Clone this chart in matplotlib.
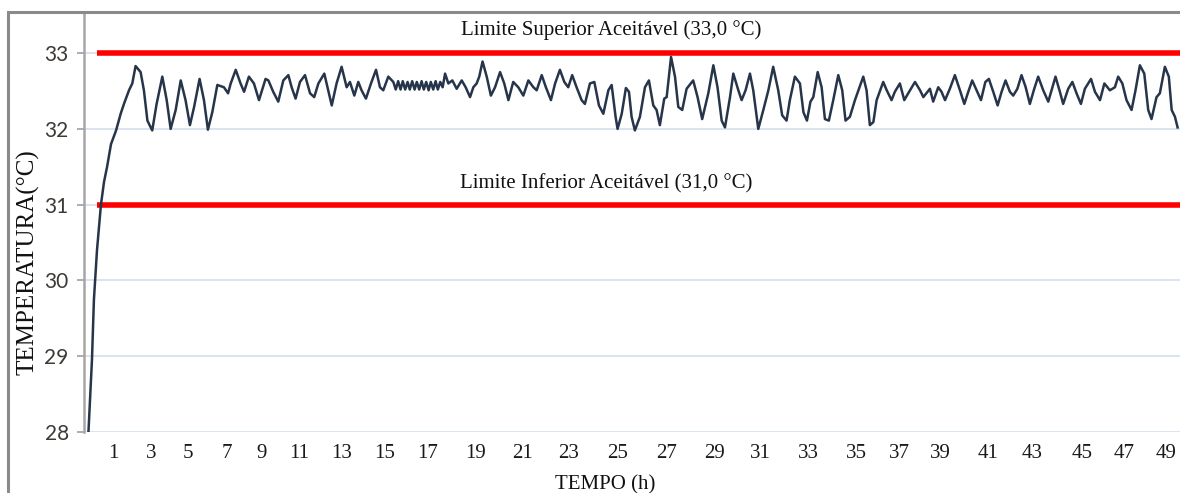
import matplotlib
matplotlib.use("Agg")
import matplotlib.pyplot as plt
from matplotlib.patches import Rectangle

# posição no eixo de categorias (escala do Excel) e temperatura lida
pos = [-0.12, 0.04, 0.13, 0.27, 0.45, 0.59, 0.73, 0.91, 1.14, 1.35, 1.50, 1.73, 1.88,
       2.03, 2.26, 2.41, 2.57, 2.79, 2.99, 3.25, 3.45, 3.63, 3.86, 4.09, 4.31, 4.51,
       4.70, 4.95, 5.15, 5.33, 5.53, 5.76, 6.06, 6.25, 6.37, 6.60, 6.82, 6.98, 7.20,
       7.43, 7.66, 7.96, 8.09, 8.31, 8.54, 8.77, 9.00, 9.15, 9.33, 9.53, 9.76, 9.99,
       10.18, 10.37, 10.64, 10.82, 10.98, 11.20, 11.43, 11.66, 11.81, 12.01, 12.19,
       12.34, 12.54, 12.77, 13.00, 13.18, 13.33, 13.56, 13.79,
       13.90, 14.01, 14.12, 14.22, 14.33, 14.44, 14.54, 14.65, 14.76, 14.86, 14.97,
       15.08, 15.18, 15.29, 15.40, 15.50, 15.61, 15.72, 15.82, 15.93, 16.04,
       16.15, 16.30, 16.48, 16.68, 16.91, 17.09, 17.29, 17.44, 17.59, 17.71, 17.86,
       18.05, 18.24, 18.43, 18.66, 18.85, 19.04, 19.26, 19.49, 19.72, 19.95, 20.18,
       20.33, 20.56, 20.75, 20.98, 21.17, 21.39, 21.59, 21.77, 21.95, 22.15, 22.38,
       22.53, 22.76, 22.96, 23.17, 23.37, 23.60, 23.75, 23.93, 24.02, 24.21, 24.40,
       24.54, 24.66, 24.81, 25.04, 25.27, 25.45, 25.65, 25.80, 25.95, 26.15, 26.26,
       26.46, 26.64, 26.79, 26.97, 27.17, 27.47, 27.67, 27.88, 28.16, 28.39, 28.58,
       28.77, 28.92, 29.15, 29.30, 29.53, 29.68, 29.86, 30.06, 30.21, 30.44, 30.67,
       30.90, 31.12, 31.35, 31.53, 31.73, 31.88, 32.11, 32.34, 32.50, 32.66, 32.82,
       32.95, 33.15, 33.33, 33.48, 33.66, 33.86, 34.09, 34.27, 34.42, 34.62, 34.85,
       35.23, 35.38, 35.53, 35.69, 35.84, 36.14, 36.30, 36.52, 36.67, 36.90, 37.10,
       37.28, 37.59, 37.82, 37.97, 38.27, 38.42, 38.65, 38.80, 38.96, 39.18, 39.41,
       39.64, 39.84, 40.02, 40.20, 40.40, 40.60, 40.80, 40.96, 41.16, 41.36, 41.54,
       41.72, 41.92, 42.07, 42.26, 42.45, 42.64, 42.83, 43.03, 43.21, 43.44, 43.67,
       43.82, 44.00, 44.20, 44.35, 44.58, 44.77, 44.96, 45.16, 45.34, 45.62, 45.80,
       46.03, 46.23, 46.48, 46.71, 46.86, 47.05, 47.24, 47.47, 47.65, 47.85, 48.05,
       48.23, 48.38, 48.61, 48.76, 48.99, 49.17, 49.30, 49.45, 49.57]

temp = [28.00, 28.95, 29.75, 30.40, 31.00, 31.30, 31.50, 31.80, 31.98, 32.20, 32.33, 32.51, 32.60,
        32.83, 32.75, 32.51, 32.11, 31.98, 32.33, 32.69, 32.38, 32.00, 32.25, 32.64, 32.38, 32.05,
        32.29, 32.66, 32.38, 31.99, 32.22, 32.58, 32.55, 32.47, 32.60, 32.78, 32.60, 32.49, 32.69,
        32.60, 32.38, 32.66, 32.64, 32.49, 32.36, 32.64, 32.71, 32.55, 32.40, 32.62, 32.71, 32.47,
        32.42, 32.60, 32.73, 32.51, 32.31, 32.60, 32.82, 32.55, 32.62, 32.44, 32.62,
        32.51, 32.40, 32.60, 32.78, 32.55, 32.51, 32.69, 32.62,
        32.52, 32.63, 32.52, 32.63, 32.52, 32.62, 32.52, 32.63, 32.52, 32.62, 32.52,
        32.63, 32.52, 32.62, 32.51, 32.62, 32.52, 32.63, 32.52, 32.62, 32.55,
        32.73, 32.60, 32.64, 32.53, 32.64, 32.55, 32.42, 32.55, 32.60, 32.69, 32.89,
        32.69, 32.44, 32.55, 32.75, 32.60, 32.38, 32.62, 32.55, 32.44, 32.64, 32.55,
        32.51, 32.71, 32.55, 32.38, 32.60, 32.78, 32.62, 32.55, 32.71, 32.55, 32.38,
        32.33, 32.60, 32.62, 32.31, 32.20, 32.51, 32.58, 32.16, 32.00, 32.20, 32.54,
        32.49, 32.16, 31.98, 32.16, 32.55, 32.64, 32.31, 32.25, 32.05, 32.40, 32.42,
        32.95, 32.69, 32.29, 32.25, 32.53, 32.64, 32.42, 32.13, 32.47, 32.84, 32.55,
        32.11, 32.02, 32.42, 32.73, 32.51, 32.38, 32.51, 32.73, 32.51, 32.00, 32.25,
        32.51, 32.82, 32.51, 32.18, 32.11, 32.38, 32.69, 32.60, 32.22, 32.11, 32.36,
        32.42, 32.75, 32.55, 32.13, 32.11, 32.38, 32.71, 32.51, 32.11, 32.16, 32.38,
        32.69, 32.51, 32.05, 32.09, 32.38, 32.62, 32.51, 32.38, 32.49, 32.60, 32.38,
        32.47, 32.62, 32.51, 32.42, 32.53, 32.36, 32.55, 32.49, 32.38, 32.53, 32.71,
        32.51, 32.33, 32.49, 32.64, 32.51, 32.38, 32.62, 32.66, 32.49, 32.31, 32.49,
        32.64, 32.49, 32.44, 32.53, 32.71, 32.55, 32.33, 32.53, 32.69, 32.51, 32.36,
        32.51, 32.69, 32.49, 32.33, 32.53, 32.62, 32.47, 32.33, 32.53, 32.66, 32.49,
        32.38, 32.60, 32.51, 32.55, 32.69, 32.60, 32.38, 32.25, 32.51, 32.84, 32.73,
        32.25, 32.13, 32.42, 32.47, 32.82, 32.69, 32.25, 32.16, 32.02]

# rótulos das horas e sua posição no eixo de categorias
hour_labels = ['1', '3', '5', '7', '9', '11', '13', '15', '17', '19', '21', '23', '25',
               '27', '29', '31', '33', '35', '37', '39', '41', '43', '45', '47', '49']
hour_pos = [1.00, 2.73, 4.42, 6.20, 7.80, 9.49, 11.45, 13.41, 15.37, 17.56, 19.70, 21.80,
            24.04, 26.27, 28.42, 30.52, 32.71, 34.90, 36.90, 38.73, 40.92, 42.93, 45.21,
            47.12, 49.04]

lim_sup = 33.0
lim_inf = 31.0
lim_start = 0.27

serif = ['Liberation Serif', 'DejaVu Serif']

fig = plt.figure(figsize=(11.8, 4.93), dpi=100)
ax = fig.add_axes([84 / 1180, 61 / 493, 1 - 84 / 1180, 419 / 493])

# moldura cinza do gráfico (cortada à direita e embaixo)
fig.patches.append(Rectangle((8 / 1180, -0.1), 1.2, (493 - 12) / 493 + 0.1,
                             transform=fig.transFigure, fill=False,
                             edgecolor='#8a8a8a', linewidth=2.2, zorder=0))

for v in [28, 29, 30, 31, 32, 33]:
    ax.axhline(v, color='#dbe3ef', lw=1.4, zorder=1)

ax.hlines([lim_sup, lim_inf], lim_start, 49.9, colors='#ff0000', lw=4, zorder=2)
ax.plot(pos, temp, color='#26354a', lw=1.8, zorder=3)

ax.text(23.72, 33.30, 'Limite Superior Aceitável (33,0 °C)', ha='center', va='center',
        family=serif, fontsize=15, color='#111111')
ax.text(23.49, 31.27, 'Limite Inferior Aceitável (31,0 °C)', ha='center', va='center',
        family=serif, fontsize=15, color='#111111')

ax.set_xlim(-0.323, 49.68)
ax.set_ylim(28, 33.53)
ax.set_yticks([28, 29, 30, 31, 32, 33])
ax.set_xticks(hour_pos)
ax.set_xticklabels(hour_labels, family=serif, fontsize=15, color='#1a1a1a')
for t in ax.get_yticklabels():
    t.set_family(['Lato', 'DejaVu Sans'])
    t.set_fontsize(15)
    t.set_color('#3d3a36')

ax.tick_params(axis='x', length=0, pad=9)
ax.tick_params(axis='y', length=5, width=1.2, color='#a0a0a0', pad=6)

for s in ['top', 'right', 'bottom']:
    ax.spines[s].set_visible(False)
ax.spines['left'].set_color('#a6a6a6')
ax.spines['left'].set_linewidth(1.8)

ax.set_xlabel('TEMPO (h)', family=serif, fontsize=15, color='#111111')
ax.xaxis.set_label_coords((605 - 84) / 1096, -0.102)
ax.set_ylabel('TEMPERATURA(°C)', family=serif, fontsize=18, color='#111111')
ax.yaxis.set_label_coords(-0.041, (432 - 262) / 419)

fig.savefig('out.png', dpi=100)
